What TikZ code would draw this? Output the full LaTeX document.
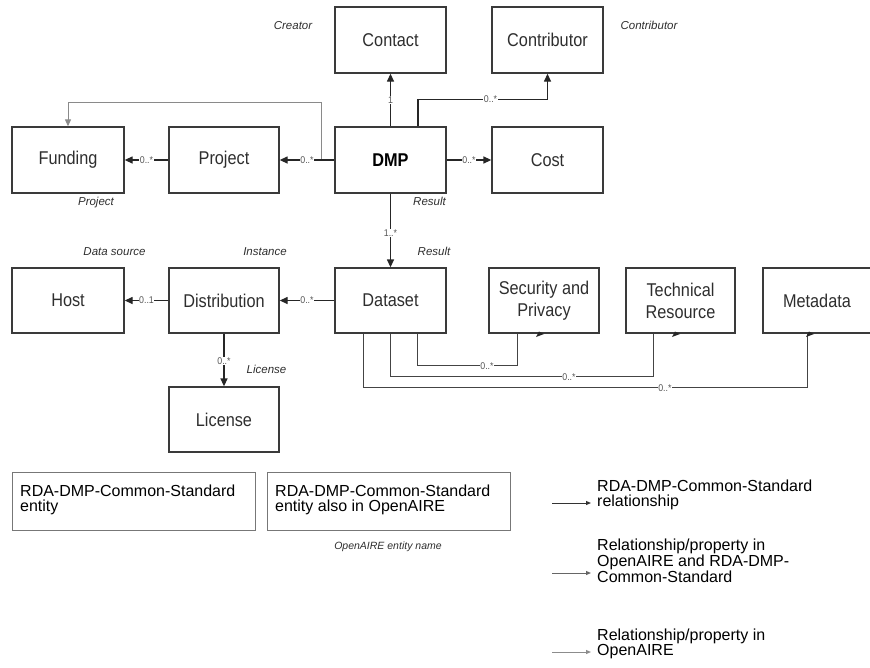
\documentclass[tikz,border=0pt]{standalone}
\usepackage{fontspec}
\setmainfont{Liberation Sans}
\newfontfamily\boxfont[FakeStretch=0.88]{Liberation Sans}
\newfontfamily\multfont[FakeStretch=0.9]{Liberation Sans}
\usetikzlibrary{arrows.meta,calc}
\definecolor{edgec}{HTML}{3A3A3A}
\definecolor{txtc}{HTML}{2E2E2E}
\definecolor{linec}{HTML}{262626}
\definecolor{thinc}{HTML}{444444}
\definecolor{multc}{HTML}{555555}
\definecolor{greyc}{HTML}{8A8A8A}
\definecolor{legc}{HTML}{777777}
\begin{document}
\begin{tikzpicture}[x=1pt,y=-1pt,
  entity/.style={draw=edgec, line width=1.3pt, minimum width=111pt, minimum height=66pt,
     inner sep=0pt, align=center, text=txtc, font=\boxfont\fontsize{18.5}{22}\selectfont},
  conn/.style={draw=linec, line width=1.3pt, -{Triangle[length=8pt,width=7pt]}},
  thinconn/.style={draw=thinc, line width=1pt},
  greyconn/.style={draw=greyc, line width=1pt, -{Triangle[length=7pt,width=6pt]}},
  mult/.style={font=\multfont\fontsize{9.8}{10}\selectfont, text=multc, fill=white, inner sep=0.6pt},
  role/.style={font=\itshape\fontsize{11.5}{12}\selectfont, text=txtc, text height=8.2pt, text depth=0pt, inner sep=0pt},
  legbox/.style={draw=legc, line width=1pt, minimum width=243pt, minimum height=58pt, inner sep=0pt},
  legtext/.style={font=\fontsize{16}{14.8}\selectfont, align=left, inner sep=0pt, anchor=north west, text=black},
  legarrow/.style={line width=1pt, -{Triangle[length=5pt,width=4pt]}}
]
\useasboundingbox (0,0) rectangle (870,667);

% entities
\node[entity] (contact) at (390.5,40) {Contact};
\node[entity] (contributor) at (547.5,40) {Contributor};
\node[entity, minimum width=112pt] (funding) at (68,160) {Funding};
\node[entity, minimum width=110pt] (project) at (224,160) {Project};
\node[entity, font=\boxfont\bfseries\fontsize{18.5}{22}\selectfont, text=black] (dmp) at (390.5,160) {DMP};
\node[entity] (cost) at (547.5,160) {Cost};
\node[entity, minimum width=112pt, minimum height=65pt] (host) at (68,300.5) {Host};
\node[entity, minimum width=110pt, minimum height=65pt] (distribution) at (224,300.5) {Distribution};
\node[entity, minimum height=65pt] (dataset) at (390.5,300.5) {Dataset};
\node[entity, minimum width=110pt, minimum height=65pt] (license) at (224,419.5) {License};
\node[entity, minimum width=110pt, minimum height=65pt] (security) at (544,300.5) {Security and\\Privacy};
\node[entity, minimum width=109pt, minimum height=65pt] (technical) at (680.5,300.5) {Technical\\Resource};
\node[entity, minimum width=114pt, minimum height=65pt, text width=100pt, align=left] (metadata) at (820,300.5) {\hspace*{13pt}Metadata};

% role labels
\node[role] (lcreator) at (293,25) {Creator};
\node[role] (lcontributor) at (649,25) {Contributor};
\node[role] (lproject) at (96,201) {Project};
\node[role] (lresult1) at (429.5,201) {Result};
\node[role] (ldatasource) at (114.5,251) {Data source};
\node[role] (linstance) at (265,251) {Instance};
\node[role] (lresult2) at (434,251) {Result};
\node[role] (llicense) at (266.5,369) {License};

% connectors
\draw[greyconn] (dmp.west) -- ++(-13,0) -- ++(0,-58) -| (funding.north);
\draw[conn] (dmp.north) -- (contact.south) node[mult, pos=0.5] {1};
\draw[conn] ([xshift=27.5pt]dmp.north) -- ++(0,-27) -| (contributor.south)
   node[mult, pos=0.28] {0..*};
\draw[conn] (dmp.west) -- (project.east) node[mult, pos=0.5] {0..*};
\draw[conn] (project.west) -- (funding.east) node[mult, pos=0.5] {0..*};
\draw[conn] (dmp.east) -- (cost.west) node[mult, pos=0.5] {0..*};
\draw[conn] (dmp.south) -- (dataset.north) node[mult, pos=0.53] {1..*};
\draw[conn] (dataset.west) -- (distribution.east) node[mult, pos=0.5] {0..*};
\draw[conn] (distribution.west) -- (host.east) node[mult, pos=0.5] {0..1};
\draw[conn] (distribution.south) -- (license.north) node[mult, pos=0.52] {0..*};

\draw[thinconn] ([xshift=26.5pt]dataset.south) -- ++(0,32) -| ([xshift=-27pt]security.south)
   node[mult, pos=0.35] {0..*};
\draw[thinconn] (dataset.south) -- ++(0,43) -| ([xshift=-27.5pt]technical.south)
   node[mult, pos=0.34] {0..*};
\draw[thinconn] ([xshift=-27.5pt]dataset.south) -- ++(0,54) -| ([xshift=-13pt]metadata.south)
   node[mult, pos=0.34] {0..*};

% stray arrowhead marks near box bottoms
\foreach \mx in {540,676,810}{
  \fill[linec] (\mx-4,337) -- (\mx+4,334) -- (\mx-1,331.5) -- cycle;
}

% legend
\node[legbox] (leg1) at (133.5,501) {};
\node[legbox] (leg2) at (388.5,501) {};
\node[legtext] (leg1t) at (20,485) {RDA-DMP-Common-Standard\\entity};
\node[legtext] (leg2t) at (275,485) {RDA-DMP-Common-Standard\\entity also in OpenAIRE};
\node[role, font=\itshape\fontsize{10.5}{11}\selectfont, text height=7.5pt] (leg2n) at (388,546) {OpenAIRE entity name};

\coordinate (a1s) at (552,503); \coordinate (a1e) at (591,503);
\coordinate (a2s) at (552,573); \coordinate (a2e) at (591,573);
\coordinate (a3s) at (552,652); \coordinate (a3e) at (591,652);
\draw[legarrow, draw=black!80, fill=black!80] (a1s) -- (a1e);
\draw[legarrow, draw=black!60, fill=black!60] (a2s) -- (a2e);
\draw[legarrow, draw=black!45, fill=black!45] (a3s) -- (a3e);
\node[legtext] (l1t) at (597,480) {RDA-DMP-Common-Standard\\relationship};
\node[legtext] (l2t) at (597,539) {Relationship/property in\\OpenAIRE and RDA-DMP-\\Common-Standard};
\node[legtext] (l3t) at (597,629) {Relationship/property in\\OpenAIRE};
\end{tikzpicture}
\end{document}
